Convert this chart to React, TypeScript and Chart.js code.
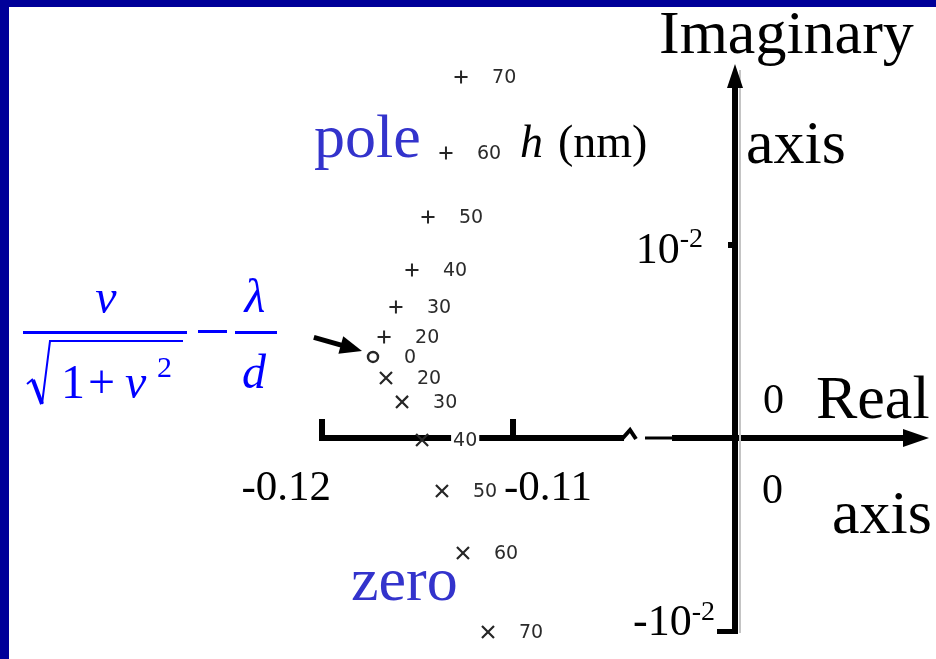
import { useEffect, useRef } from "react";
import { Chart, registerables } from "chart.js";

Chart.register(...registerables);

// Film thickness h (nm) for each pole / zero pair
const H_NM = [20, 30, 40, 50, 60, 70];
const POLE_RE = [-0.11675, -0.11613, -0.11529, -0.11445, -0.11351, -0.11272];
const POLE_IM = [0.00523, 0.00679, 0.0087, 0.01145, 0.01477, 0.0187];
const ZERO_RE = [-0.11665, -0.11581, -0.11476, -0.11372, -0.11262, -0.11131];
const ZERO_IM = [0.00311, 0.00187, -0.0001, -0.00275, -0.00596, -0.01005];
// h = 0: pole and zero coincide
const START_H = [0];
const START_RE = [-0.11733];
const START_IM = [0.0042];

const X_TICKS = [-0.12, -0.11];
const X_TICK_LABELS = ["-0.12", "-0.11"];
const Y_TICKS = [0.01, -0.01];
const Y_TICK_BASE = ["10", "-10"];
const Y_TICK_EXP = ["-2", "-2"];

// Visible window of the s-plane
const X_MIN = -0.136859;
const X_MAX = -0.087854;
const Y_MIN = -0.011451;
const Y_MAX = 0.022694;
// The real axis is broken: Re = 0 is drawn here, after the break mark
const IM_AXIS_AT = -0.098377;
const RE_BREAK_AT = -0.103874;

const SERIF = '"Liberation Serif", "Times New Roman", serif';
const MONO = '"DejaVu Sans", sans-serif';
const INK = "#000";
const LABEL_BLUE = "#3333cc";
const FORMULA_BLUE = "#0000ff";

function text(
  ctx: CanvasRenderingContext2D,
  s: string,
  x: number,
  y: number,
  font: string,
  color: string,
  align: CanvasTextAlign = "left"
) {
  ctx.font = font;
  ctx.fillStyle = color;
  ctx.textAlign = align;
  ctx.textBaseline = "alphabetic";
  ctx.fillText(s, x, y);
}

const sPlane = {
  id: "sPlane",
  beforeDraw(chart: any) {
    const { ctx, width, height } = chart;
    ctx.save();
    ctx.fillStyle = "#fff";
    ctx.fillRect(0, 0, width, height);
    ctx.restore();
  },
  beforeDatasetsDraw(chart: any) {
    const { ctx, chartArea } = chart;
    const xs = chart.scales.x;
    const ys = chart.scales.y;
    const y0 = ys.getPixelForValue(0);
    const xLeft = xs.getPixelForValue(X_TICKS[0]);
    const xBreak = xs.getPixelForValue(RE_BREAK_AT);
    const xIm = xs.getPixelForValue(IM_AXIS_AT);
    const right = chartArea.right - 7;
    const yTop = ys.getPixelForValue(Y_TICKS[0]);
    const yBot = ys.getPixelForValue(Y_TICKS[1]);

    ctx.save();
    ctx.strokeStyle = INK;
    ctx.fillStyle = INK;
    ctx.lineCap = "butt";

    // real axis, left piece
    ctx.lineWidth = 6;
    ctx.beginPath();
    ctx.moveTo(xLeft - 3, y0);
    ctx.lineTo(xBreak - 6, y0);
    ctx.stroke();
    // break mark
    ctx.lineWidth = 4;
    ctx.beginPath();
    ctx.moveTo(xBreak - 8, y0 + 1);
    ctx.lineTo(xBreak, y0 - 8);
    ctx.lineTo(xBreak + 6, y0 + 1);
    ctx.stroke();
    // real axis, right piece
    ctx.lineWidth = 3;
    ctx.beginPath();
    ctx.moveTo(xBreak + 15, y0);
    ctx.lineTo(xBreak + 42, y0);
    ctx.stroke();
    ctx.lineWidth = 6;
    ctx.beginPath();
    ctx.moveTo(xBreak + 42, y0);
    ctx.lineTo(right - 20, y0);
    ctx.stroke();
    ctx.beginPath();
    ctx.moveTo(right, y0);
    ctx.lineTo(right - 26, y0 - 9);
    ctx.lineTo(right - 26, y0 + 9);
    ctx.closePath();
    ctx.fill();

    // real-axis ticks
    for (const t of X_TICKS) {
      const x = xs.getPixelForValue(t);
      ctx.fillRect(x - 3, y0 - 19, 6, 19);
    }

    // faint shadow beside the imaginary axis
    ctx.fillStyle = "#c4c4c4";
    ctx.fillRect(xIm + 4, 70, 2, yBot - 68);
    ctx.fillStyle = INK;

    // imaginary axis
    const arrowTip = 64;
    ctx.lineWidth = 6;
    ctx.beginPath();
    ctx.moveTo(xIm, arrowTip + 18);
    ctx.lineTo(xIm, yBot + 3);
    ctx.stroke();
    ctx.beginPath();
    ctx.moveTo(xIm, arrowTip);
    ctx.lineTo(xIm - 8, arrowTip + 24);
    ctx.lineTo(xIm + 8, arrowTip + 24);
    ctx.closePath();
    ctx.fill();
    // imaginary-axis ticks
    ctx.fillRect(xIm - 7, yTop - 3, 7, 6);
    ctx.fillRect(xIm - 18, yBot - 2, 21, 5);
    ctx.restore();
  },
  afterDatasetsDraw(chart: any) {
    const { ctx } = chart;
    const xs = chart.scales.x;
    const ys = chart.scales.y;
    const xIm = xs.getPixelForValue(IM_AXIS_AT);
    ctx.save();

    // thickness labels beside each marker
    const labelSets = [H_NM, H_NM, START_H];
    labelSets.forEach((vals, di) => {
      const meta = chart.getDatasetMeta(di);
      meta.data.forEach((pt: any, i: number) => {
        const s = String(vals[i]);
        ctx.font = `19px ${MONO}`;
        const w = ctx.measureText(s).width;
        const lx = pt.x + 31;
        ctx.fillStyle = "#fff";
        ctx.fillRect(lx - 2, pt.y - 10, w + 4, 20);
        ctx.fillStyle = "#2b2b2b";
        ctx.textAlign = "left";
        ctx.textBaseline = "middle";
        ctx.fillText(s, lx, pt.y + 1);
      });
    });

    // tick labels
    const y0 = ys.getPixelForValue(0);
    const xt0 = xs.getPixelForValue(X_TICKS[0]);
    const xt1 = xs.getPixelForValue(X_TICKS[1]);
    text(ctx, X_TICK_LABELS[0], xt0 + 9, y0 + 62, `43px ${SERIF}`, INK, "right");
    text(ctx, X_TICK_LABELS[1], xt1 - 9, y0 + 62, `43px ${SERIF}`, INK, "left");

    const yTop = ys.getPixelForValue(Y_TICKS[0]);
    const yBot = ys.getPixelForValue(Y_TICKS[1]);
    const supFont = `28px ${SERIF}`;
    ctx.font = supFont;
    const e0 = ctx.measureText(Y_TICK_EXP[0]).width;
    const e1 = ctx.measureText(Y_TICK_EXP[1]).width;
    text(ctx, Y_TICK_EXP[0], xIm - 32, yTop + 2, supFont, INK, "right");
    text(ctx, Y_TICK_BASE[0], xIm - 32 - e0, yTop + 18, `44px ${SERIF}`, INK, "right");
    text(ctx, Y_TICK_EXP[1], xIm - 20, yBot - 11, supFont, INK, "right");
    text(ctx, Y_TICK_BASE[1], xIm - 20 - e1, yBot + 4, `44px ${SERIF}`, INK, "right");

    text(ctx, "0", xIm + 28, y0 - 25, `42px ${SERIF}`, INK);
    text(ctx, "0", xIm + 27, y0 + 65, `42px ${SERIF}`, INK);

    // axis names
    const big = `62px ${SERIF}`;
    text(ctx, "Imaginary", 659, 53, big, INK);
    text(ctx, "axis", 746, 163, big, INK);
    text(ctx, "Real", 816, 418, big, INK);
    text(ctx, "axis", 832, 533, big, INK);

    // pole / zero captions
    text(ctx, "pole", 314, 157, big, LABEL_BLUE);
    text(ctx, "zero", 351, 600, big, LABEL_BLUE);
    text(ctx, "h", 520, 157, `italic 46px ${SERIF}`, INK);
    text(ctx, "(nm)", 558, 157, `46px ${SERIF}`, INK);

    // starting point formula:  nu / sqrt(1 + nu^2) - lambda / d
    ctx.fillStyle = FORMULA_BLUE;
    ctx.strokeStyle = FORMULA_BLUE;
    text(ctx, "\u03bd", 106, 313, `italic 48px ${SERIF}`, FORMULA_BLUE, "center");
    ctx.fillRect(23, 331, 164, 3);
    ctx.lineJoin = "miter";
    ctx.lineWidth = 2;
    ctx.beginPath();
    ctx.moveTo(27, 384);
    ctx.lineTo(33, 379);
    ctx.stroke();
    ctx.lineWidth = 4;
    ctx.beginPath();
    ctx.moveTo(33, 380);
    ctx.lineTo(42, 404);
    ctx.stroke();
    ctx.lineWidth = 2;
    ctx.beginPath();
    ctx.moveTo(42, 404);
    ctx.lineTo(50, 341);
    ctx.lineTo(183, 341);
    ctx.stroke();
    text(ctx, "1", 61, 398, `48px ${SERIF}`, FORMULA_BLUE);
    text(ctx, "+", 88, 398, `48px ${SERIF}`, FORMULA_BLUE);
    text(ctx, "\u03bd", 125, 398, `italic 48px ${SERIF}`, FORMULA_BLUE);
    text(ctx, "2", 157, 377, `30px ${SERIF}`, FORMULA_BLUE);
    ctx.fillStyle = FORMULA_BLUE;
    ctx.fillRect(198, 330, 29, 3);
    text(ctx, "\u03bb", 255, 312, `italic 48px ${SERIF}`, FORMULA_BLUE, "center");
    ctx.fillStyle = FORMULA_BLUE;
    ctx.fillRect(235, 331, 42, 3);
    text(ctx, "d", 254, 388, `italic 48px ${SERIF}`, FORMULA_BLUE, "center");

    // arrow from the formula to the h = 0 point
    const start = chart.getDatasetMeta(2).data[0];
    const tipX = start.x - 11;
    const tipY = start.y - 6;
    const ang = Math.atan2(14, 50);
    const tailX = tipX - 50 * Math.cos(ang);
    const tailY = tipY - 50 * Math.sin(ang);
    ctx.strokeStyle = INK;
    ctx.fillStyle = INK;
    ctx.lineWidth = 5;
    ctx.beginPath();
    ctx.moveTo(tailX, tailY);
    ctx.lineTo(tipX - 18 * Math.cos(ang), tipY - 18 * Math.sin(ang));
    ctx.stroke();
    ctx.beginPath();
    ctx.moveTo(tipX, tipY);
    ctx.lineTo(
      tipX - 22 * Math.cos(ang) + 9 * Math.sin(ang),
      tipY - 22 * Math.sin(ang) - 9 * Math.cos(ang)
    );
    ctx.lineTo(
      tipX - 22 * Math.cos(ang) - 9 * Math.sin(ang),
      tipY - 22 * Math.sin(ang) + 9 * Math.cos(ang)
    );
    ctx.closePath();
    ctx.fill();

    // slide frame
    ctx.fillStyle = "#000099";
    ctx.fillRect(0, 0, chart.width, 7);
    ctx.fillRect(0, 0, 9, chart.height);
    ctx.restore();
  },
};

export default function App() {
  const ref = useRef<HTMLCanvasElement>(null);

  useEffect(() => {
    if (!ref.current) return;
    const pts = (xs: number[], ys: number[]) => xs.map((x, i) => ({ x, y: ys[i] }));
    const chart = new Chart(ref.current, {
      type: "scatter",
      data: {
        datasets: [
          {
            label: "pole",
            data: pts(POLE_RE, POLE_IM),
            pointStyle: "cross",
            pointRadius: 6.5,
            borderWidth: 2,
            borderColor: "#262626",
            backgroundColor: "#262626",
          },
          {
            label: "zero",
            data: pts(ZERO_RE, ZERO_IM),
            pointStyle: "crossRot",
            pointRadius: 8.5,
            borderWidth: 2.2,
            borderColor: "#262626",
            backgroundColor: "#262626",
          },
          {
            label: "h = 0",
            data: pts(START_RE, START_IM),
            pointStyle: "circle",
            pointRadius: 5,
            borderWidth: 2.5,
            borderColor: "#262626",
            backgroundColor: "rgba(0,0,0,0)",
          },
        ],
      },
      options: {
        animation: false,
        responsive: false,
        devicePixelRatio: 1,
        layout: { padding: 0, autoPadding: false },
        plugins: { legend: { display: false }, tooltip: { enabled: false } },
        scales: {
          x: { type: "linear", min: X_MIN, max: X_MAX, display: false },
          y: { type: "linear", min: Y_MIN, max: Y_MAX, display: false },
        },
      },
      plugins: [sPlane],
    });
    return () => chart.destroy();
  }, []);

  return (
    <div style={{ position: "fixed", left: 0, top: 0, width: 936, height: 659 }}>
      <canvas ref={ref} width={936} height={659} style={{ display: "block" }} />
    </div>
  );
}
